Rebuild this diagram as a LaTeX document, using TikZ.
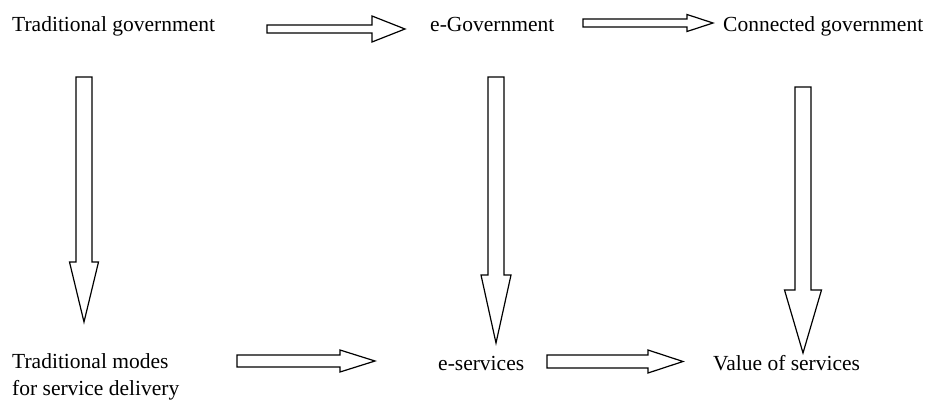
\documentclass[tikz,border=0pt]{standalone}
\usepackage{fontspec}
\setmainfont{Liberation Serif}
\usetikzlibrary{calc}

% horizontal block arrow: from, to, shaft half-width, head half-width, head length
\newcommand\hblock[5]{%
  \draw[blockarrow] ($(#1)+(0,-#3)$) -- ($(#2)+(-#5,-#3)$) -- ($(#2)+(-#5,-#4)$)
    -- (#2) -- ($(#2)+(-#5,#4)$) -- ($(#2)+(-#5,#3)$) -- ($(#1)+(0,#3)$) -- cycle;}
% vertical (downward) block arrow: from, to, shaft half-width, head half-width, head length
\newcommand\vblock[5]{%
  \draw[blockarrow] ($(#1)+(-#3,0)$) -- ($(#2)+(-#3,-#5)$) -- ($(#2)+(-#4,-#5)$)
    -- (#2) -- ($(#2)+(#4,-#5)$) -- ($(#2)+(#3,-#5)$) -- ($(#1)+(#3,0)$) -- cycle;}

\begin{document}
\begin{tikzpicture}[x=1pt,y=-1pt,
  label/.style={anchor=base west,inner sep=0pt,font=\fontsize{21.5}{27}\selectfont},
  blockarrow/.style={draw=black,fill=white,line width=1.2pt,line join=miter}]
  \useasboundingbox[fill=white] (0,0) rectangle (931,415);

  % texts
  \node[label] (tg) at (12,31) {Traditional government};
  \node[label] (eg) at (430,31) {e-Government};
  \node[label] (cg) at (723,31) {Connected government};
  \node[label] (tm) at (12,368) {\vtop{\baselineskip=27pt\hbox{Traditional modes}\hbox{for service delivery}}};
  \node[label] (es) at (438,370) {e-services};
  \node[label] (vs) at (713,370) {Value of services};

  % arrow end points
  \coordinate (a1s) at (267,29);   \coordinate (a1e) at (405,29);
  \coordinate (a2s) at (583,23);   \coordinate (a2e) at (713,23);
  \coordinate (v1s) at (84,77);    \coordinate (v1e) at (84,322);
  \coordinate (v2s) at (496,77);   \coordinate (v2e) at (496,343);
  \coordinate (v3s) at (803,87);   \coordinate (v3e) at (803,353);
  \coordinate (b1s) at (237,361);  \coordinate (b1e) at (375,361);
  \coordinate (b2s) at (547,361.5);\coordinate (b2e) at (683,361.5);

  % top row
  \hblock{a1s}{a1e}{4}{13}{33}
  \hblock{a2s}{a2e}{4}{8.5}{26}
  % columns
  \vblock{v1s}{v1e}{8}{14.5}{60}
  \vblock{v2s}{v2e}{8}{15}{68}
  \vblock{v3s}{v3e}{8}{18.5}{63}
  % bottom row
  \hblock{b1s}{b1e}{6}{11}{35}
  \hblock{b2s}{b2e}{6.5}{11.5}{35}
\end{tikzpicture}
\end{document}
